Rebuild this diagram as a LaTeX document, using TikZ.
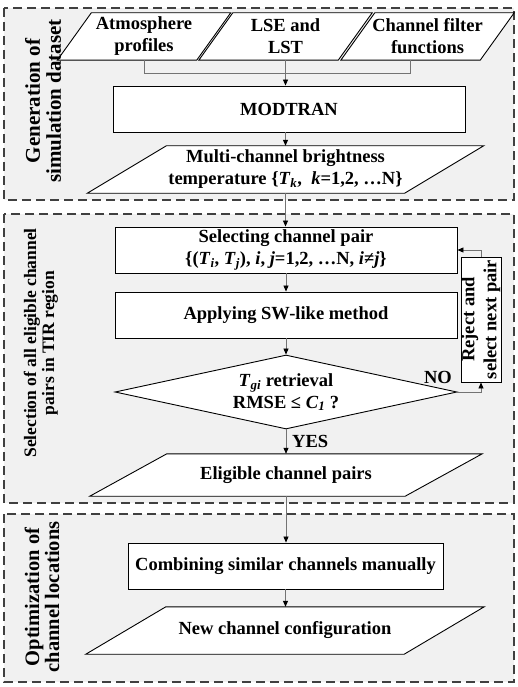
\documentclass[tikz,border=0pt]{standalone}
\usepackage{fontspec}
\setmainfont{Liberation Serif}
\usetikzlibrary{arrows.meta,calc,shapes.geometric}
\pgfdeclarelayer{bg}
\pgfdeclarelayer{mid}
\pgfsetlayers{bg,mid,main}
\definecolor{secgray}{HTML}{F1F1F1}
\newcommand\mkpara[2]{%
  \begin{pgfonlayer}{mid}
  \draw[shapeline,fill=white] ([xshift=-#2pt/2]#1.south west) -- ([xshift=#2pt/2]#1.north west)
     -- ([xshift=#2pt/2]#1.north east) -- ([xshift=-#2pt/2]#1.south east) -- cycle;
  \end{pgfonlayer}}
\begin{document}
\begin{tikzpicture}[x=1pt,y=-1pt,
  every node/.style={font=\bfseries\fontsize{18.5}{22}\selectfont},
  sect/.style={draw=black!75,dash pattern=on 9pt off 5pt,line width=1.1pt,fill=secgray},
  shapeline/.style={draw=black,line width=0.9pt},
  ptext/.style={align=center,inner sep=0pt},
  boxnode/.style={shapeline,fill=white,align=center,inner sep=0pt},
  conn/.style={draw=black!55,line width=0.8pt},
  arr/.style={conn,-{Triangle[length=6pt,width=5pt,black]}},
  seclabel/.style={rotate=90,align=center,inner sep=0pt}]
\useasboundingbox (0,0) rectangle (517,687);
\begin{pgfonlayer}{bg}
  \fill[white] (0,0) rectangle (517,687);
  \draw[sect] (4,8) rectangle (514,200);
  \draw[sect] (4,214) rectangle (514,503);
  \draw[sect] (4,514) rectangle (514,682);
\end{pgfonlayer}
% section labels
\node[seclabel,font=\bfseries\fontsize{21}{21}\selectfont] (lab1) at (43,101) {Generation of\\simulation dataset};
\node[seclabel,font=\bfseries\fontsize{17.5}{18}\selectfont] (lab2) at (41,343) {Selection of all eligible channel\\pairs in TIR region};
\node[seclabel,font=\bfseries\fontsize{20.5}{20}\selectfont] (lab3) at (42,597) {Optimization of\\channel locations};
% top row
\node[ptext,minimum width=139pt,minimum height=47pt] (atm) at (144,36.5) {Atmosphere\\profiles};
\node[ptext,minimum width=139pt,minimum height=47pt] (lse) at (285.5,36.5) {LSE and\\LST};
\node[ptext,minimum width=139pt,minimum height=47pt] (chf) at (427.5,36.5) {Channel filter\\functions};
\mkpara{atm}{34}
\mkpara{lse}{34}
\mkpara{chf}{34}
\node[boxnode,minimum width=352pt,minimum height=46pt] (mod) at (289,109) {MODTRAN};
\node[ptext,minimum width=317pt,minimum height=47pt] (multi) at (285.5,169.5)
  {Multi-channel brightness\\temperature \{\textit{T}\textsubscript{\textit{k}}, \ \textit{k}=1,2, …N\}};
\mkpara{multi}{79}
% section 2
\node[boxnode,minimum width=342pt,minimum height=46pt] (sel) at (286,250)
  {Selecting channel pair\\\{(\textit{T}\textsubscript{\textit{i}}, \textit{T}\textsubscript{\textit{j}}), \textit{i}, \textit{j}=1,2, …N, \textit{i}≠\textit{j}\}};
\node[boxnode,minimum width=342pt,minimum height=46pt] (app) at (286,315) {Applying SW-like method};
\node[boxnode,shape=diamond,aspect=4.6,minimum width=342pt,minimum height=74pt] (dia) at (286,392)
  {\textit{T}\textsubscript{\textit{gi}} retrieval\\RMSE ≤ \textit{C}\textsubscript{\textit{1}} ?};
\node[boxnode,rotate=90,minimum width=125pt,minimum height=40pt] (rej) at (481,319.5) {Reject and\\select next pair};
\node[ptext,minimum width=315pt,minimum height=42pt] (elig) at (286,475) {Eligible channel pairs};
\mkpara{elig}{77}
% section 3
\node[boxnode,minimum width=315pt,minimum height=46pt] (comb) at (285.5,566) {Combining similar channels manually};
\node[ptext,minimum width=318pt,minimum height=47pt] (newc) at (285,630.5) {New channel configuration};
\mkpara{newc}{80}
% labels
\node[inner sep=0pt,anchor=west] (yes) at (292,441) {YES};
\node[inner sep=0pt] (no) at (438,377) {NO};
% connectors
\coordinate (j) at (285.5,73);
\draw[conn] (atm.south) |- (j);
\draw[conn] ([xshift=-17pt]chf.south) |- (j);
\draw[arr] (lse.south) -- (j |- mod.north);
\draw[arr] (j |- mod.south) -- (j |- multi.north);
\draw[arr] (multi.south) -- (multi.south |- sel.north);
\draw[arr] (sel.south) -- (app.north);
\draw[arr] (app.south) -- (dia.north);
\draw[arr] (dia.south) -- (dia.south |- elig.north);
\draw[arr] (elig.south) -- (elig.south |- comb.north);
\draw[arr] (comb.south) -- (comb.south |- newc.north);
\draw[arr] (dia.east) -| (rej.west);
\draw[arr] (rej.east) |- (sel.east);
\end{tikzpicture}
\end{document}
